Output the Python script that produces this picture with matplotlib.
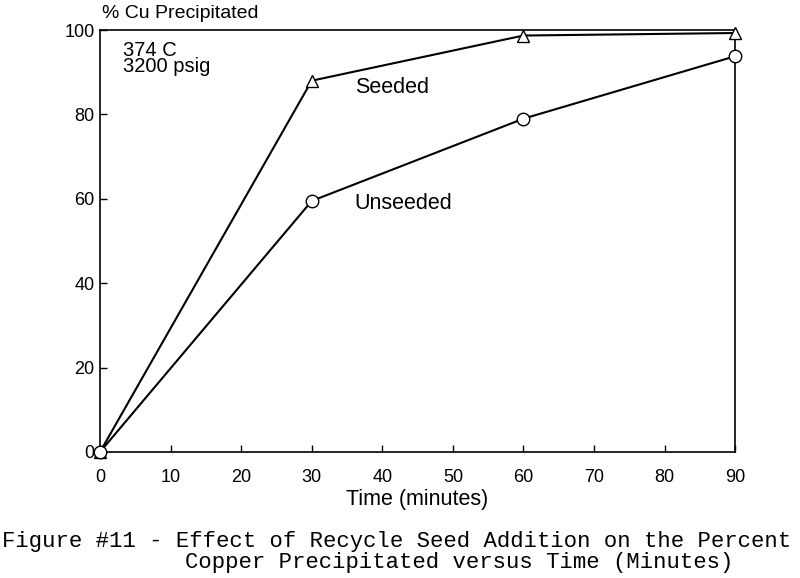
import matplotlib.pyplot as plt

# data
time = [0, 30, 60, 90]
seeded = [0, 88, 98.7, 99.3]
unseeded = [0, 59.5, 79, 93.8]
xticks = [0, 10, 20, 30, 40, 50, 60, 70, 80, 90]
yticks = [0, 20, 40, 60, 80, 100]

plt.rcParams['font.family'] = ['Liberation Sans', 'DejaVu Sans']
mono = ["Liberation Mono", "DejaVu Sans Mono"]

fig = plt.figure(figsize=(8, 5.78), dpi=100)
ax = fig.add_axes([0.125, 0.218, 0.794, 0.730])

ax.plot(time, seeded, color="black", lw=1.5, marker="^", ms=8,
        mfc="white", mec="black", mew=1.0, clip_on=False, zorder=3)
ax.plot(time, unseeded, color="black", lw=1.5, marker="o", ms=9,
        mfc="white", mec="black", mew=1.0, clip_on=False, zorder=3)

ax.set_xlim(0, 90)
ax.set_ylim(0, 100)
ax.set_xticks(xticks)
ax.set_yticks(yticks)
ax.tick_params(direction="in", length=5, labelsize=13, width=1)
ax.tick_params(axis="x", pad=12.5)
ax.tick_params(axis="y", pad=4)
for s in ax.spines.values():
    s.set_linewidth(1.2)

ax.text(3.2, 93.2, "374 C\n3200 psig", fontsize=14.5, va="center",
        ha="left", linespacing=0.8)
ax.text(36.2, 86.5, "Seeded", fontsize=15.5, va="center", ha="left")
ax.text(36.0, 59, "Unseeded", fontsize=15.5, va="center", ha="left")

fig.text(0.128, 0.976, "% Cu Precipitated", fontsize=14,
         ha="left", va="center")
ax.set_xlabel("Time (minutes)", fontsize=15.5, labelpad=2)

fig.text(0.003, 0.064, "Figure #11 - Effect of Recycle Seed Addition on the Percent",
         family=mono, fontsize=16, ha="left", va="center")
fig.text(0.231, 0.026, "Copper Precipitated versus Time (Minutes)",
         family=mono, fontsize=16, ha="left", va="center")

plt.savefig("out.png", dpi=100)
